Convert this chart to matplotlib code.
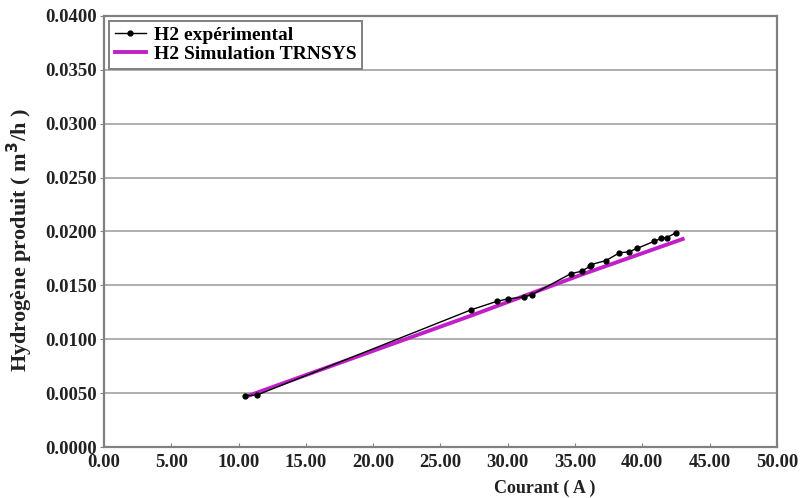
import matplotlib
matplotlib.use("Agg")
import matplotlib.pyplot as plt
from matplotlib.ticker import MultipleLocator, FormatStrFormatter

# experimental H2 production (current A, m3/h)
courant_exp = [10.5, 11.4, 27.3, 29.2, 30.0, 31.2, 31.8, 34.7, 35.5, 36.1, 36.2,
               37.3, 38.3, 39.0, 39.6, 40.9, 41.4, 41.8, 42.5]
h2_exp = [0.00474, 0.00484, 0.01274, 0.01352, 0.01374, 0.01393, 0.01414, 0.01609,
          0.01631, 0.01677, 0.01693, 0.01730, 0.01802, 0.01811, 0.01842, 0.01910,
          0.01935, 0.01942, 0.01988]

# TRNSYS simulation
courant_sim = [10.6, 27.3, 35.5, 43.0]
h2_sim = [0.0047, 0.0122, 0.0160, 0.0193]

plt.rcParams['font.family'] = ['Liberation Serif', 'DejaVu Serif']
plt.rcParams['font.weight'] = 'bold'

fig = plt.figure(figsize=(8.03, 4.98), dpi=100)
ax = fig.add_axes([0.1295, 0.1024, 0.838, 0.8656])

ax.plot(courant_exp, h2_exp, color='black', lw=1.0, marker='o', ms=3.5,
        label='H2 expérimental', zorder=3)
ax.plot(courant_sim, h2_sim, color='#C020C8', lw=2.8,
        label='H2 Simulation TRNSYS', zorder=2)

ax.set_xlim(0, 50)
ax.set_ylim(0, 0.04)
ax.xaxis.set_major_locator(MultipleLocator(5))
ax.yaxis.set_major_locator(MultipleLocator(0.005))
ax.xaxis.set_major_formatter(FormatStrFormatter('%.2f'))
ax.yaxis.set_major_formatter(FormatStrFormatter('%.4f'))
ax.grid(axis='y', color='#a8a8a8', lw=1.3)
ax.set_axisbelow(True)
for s in ax.spines.values():
    s.set_color('#808080')
    s.set_linewidth(1.6)
ax.tick_params(axis='x', direction='in', length=3, colors='#808080',
               labelcolor='#222222', labelsize=13.5, pad=5)
ax.tick_params(axis='y', direction='out', length=3, colors='#808080',
               labelcolor='#222222', labelsize=13.5, pad=2)
for lab in ax.get_xticklabels() + ax.get_yticklabels():
    lab.set_fontweight('bold')

ylab = ax.set_ylabel('Hydrogène produit ( m$^3$/h )', fontsize=16, fontweight='bold',
                     color='#222222')
ylab.set_verticalalignment('center')
ax.yaxis.set_label_coords(-0.125, 0.48)
ax.set_xlabel('Courant ( A )', fontsize=13, fontweight='bold', color='#222222')
ax.xaxis.set_label_coords(0.655, -0.075)

leg = ax.legend(loc='upper left', bbox_to_anchor=(0.0, 1.0), borderaxespad=0.25,
                fancybox=False, framealpha=1, edgecolor='#808080', borderpad=0.3,
                labelspacing=0.05, handlelength=1.6, handletextpad=0.4,
                prop={'weight': 'bold', 'size': 14})
leg.get_frame().set_linewidth(1.4)

fig.savefig('out.png', dpi=100)
